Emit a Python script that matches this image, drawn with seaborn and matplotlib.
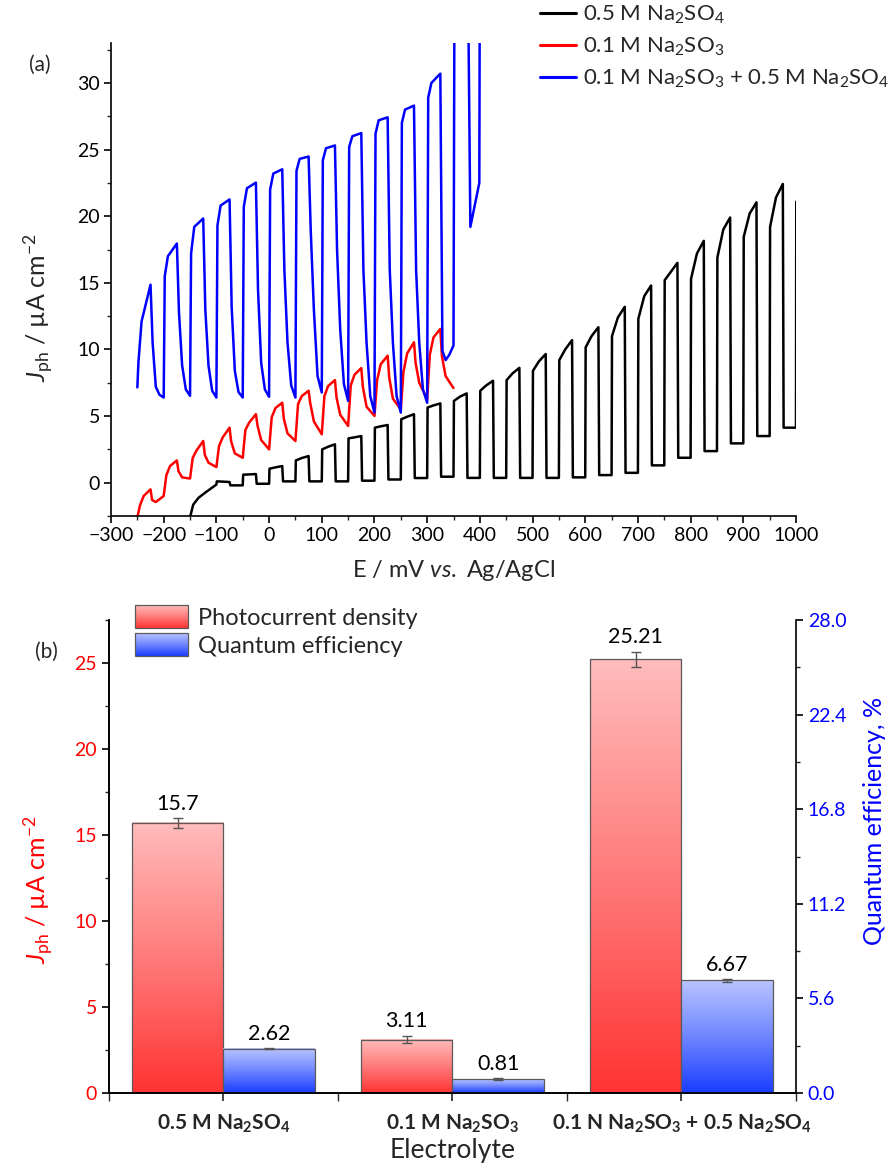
import numpy as np
import pandas as pd
import matplotlib
matplotlib.use("Agg")
import matplotlib.pyplot as plt
import seaborn as sns
from matplotlib.colors import LinearSegmentedColormap
from matplotlib.ticker import MultipleLocator, FixedLocator, FormatStrFormatter
from matplotlib.legend_handler import HandlerBase
from matplotlib.image import BboxImage
from matplotlib.transforms import Bbox, TransformedBbox
from matplotlib.patches import Rectangle
from matplotlib.lines import Line2D

# ---------------- data: panel (a) chopped-light voltammograms ----------------
# 0.1 M Na2SO3 + 0.5 M Na2SO4 (blue): light-on potentials and read currents
blue_on = [-250, -200, -150, -100, -50, 0, 50, 100, 150, 200, 250, 300]
blue_start = 7.15
blue_jump = [9.0, 15.5, 17.2, 19.3, 20.7, 22.0, 23.4, 24.2, 25.2, 26.2, 27.0, 28.9]
blue_knee = [12.1, 17.0, 19.2, 20.8, 22.1, 23.2, 24.3, 25.1, 26.0, 27.2, 28.0, 30.0]
blue_peak = [14.86, 17.95, 19.83, 21.26, 22.52, 23.52, 24.48, 25.31, 26.24, 27.42, 28.3, 30.7]
blue_fall = [10.5, 12.8, 13.0, 13.2, 14.5, 16.0, 19.0, 17.5, 16.0, 16.0, 16.0, 9.9]
blue_tail = [7.2, 8.8, 8.8, 8.4, 9.0, 10.5, 13.0, 11.5, 10.5, 10.5, 10.5, 9.2]
blue_tail2 = [6.6, 7.0, 6.9, 6.8, 7.0, 7.3, 8.0, 7.4, 6.5, 6.5, 7.0, 9.6]
blue_dark = [6.39, 6.52, 6.39, 6.39, 6.45, 6.39, 6.77, 6.14, 5.26, 5.26, 6.0, 10.3]
blue_end_E = [352, 377, 382, 399, 400]
blue_end_J = [40, 40, 19.2, 22.5, 40]

# 0.1 M Na2SO3 (red)
red_on = [-250, -200, -150, -100, -50, 0, 50, 100, 150, 200, 250, 300]
red_start = -2.6
red_r1 = [-1.7, 0.55, 1.85, 2.75, 3.95, 4.9, 5.9, 6.5, 7.3, 7.7, 8.3, 9.6]
red_r2 = [-1.0, 1.25, 2.4, 3.4, 4.5, 5.6, 6.5, 7.25, 8.1, 8.9, 9.7, 10.9]
red_peak = [-0.5, 1.67, 3.13, 4.13, 5.14, 6.0, 6.9, 7.7, 8.6, 9.53, 10.54, 11.54]
red_f1 = [-1.3, 0.87, 2.1, 3.1, 4.3, 4.8, 6.0, 6.4, 7.2, 7.9, 9.0, 9.5]
red_f2 = [-1.45, 0.4, 1.5, 2.2, 3.2, 3.7, 4.6, 5.1, 5.7, 6.3, 7.5, 8.0]
red_dark = [-1.0, 0.31, 1.17, 1.87, 2.5, 3.13, 3.63, 4.26, 5.01, 5.51, 6.27, 7.1]

# 0.5 M Na2SO4 (black)
black_pre_E = [-150, -144, -134, -122, -100]
black_pre_J = [-2.6, -1.65, -1.14, -0.77, -0.14]
black_on = [-100, -50, 0, 50, 100, 150, 200, 250, 300, 350, 400, 450, 500,
            550, 600, 650, 700, 750, 800, 850, 900, 950]
black_jump = [0.1, 0.6, 1.05, 1.67, 2.5, 3.33, 4.13, 4.76, 5.64, 6.14, 6.9, 7.7,
              8.4, 9.2, 10.16, 11.0, 12.3, 15.2, 15.3, 16.9, 18.45, 19.2]
black_mid = [0.08, 0.62, 1.15, 1.85, 2.7, 3.4, 4.23, 4.95, 5.8, 6.45, 7.3, 8.2,
             9.1, 10.0, 11.0, 12.4, 14.0, 15.8, 17.2, 19.0, 20.2, 21.4]
black_peak = [0.05, 0.65, 1.25, 2.0, 2.88, 3.5, 4.33, 5.14, 5.95, 6.7, 7.65, 8.62,
              9.66, 10.7, 11.67, 13.2, 14.8, 16.5, 18.15, 19.9, 21.04, 22.42]
black_dark = [-0.2, -0.08, 0.1, 0.1, 0.1, 0.15, 0.24, 0.35, 0.45, 0.36, 0.36, 0.36,
              0.36, 0.4, 0.57, 0.74, 1.3, 1.87, 2.37, 2.95, 3.5, 4.13]
black_last_on = 1000
black_last_jump = 21.1

series_labels = [r"0.5 M Na$_2$SO$_4$", r"0.1 M Na$_2$SO$_3$",
                 r"0.1 M Na$_2$SO$_3$ + 0.5 M Na$_2$SO$_4$"]

# ---------------- data: panel (b) bars ----------------
electrolytes = [r"0.5 M Na$_\mathbf{2}$SO$_\mathbf{4}$",
                r"0.1 M Na$_\mathbf{2}$SO$_\mathbf{3}$",
                r"0.1 N Na$_\mathbf{2}$SO$_\mathbf{3}$ + 0.5 Na$_\mathbf{2}$SO$_\mathbf{4}$"]
cat_keys = ["A", "B", "C"]
photocurrent = [15.7, 3.11, 25.21]
photocurrent_err = [0.3, 0.23, 0.45]
photocurrent_txt = ["15.7", "3.11", "25.21"]
qe = [2.62, 0.81, 6.67]
qe_err = [0.04, 0.05, 0.08]
qe_txt = ["2.62", "0.81", "6.67"]
metrics = ["Photocurrent density", "Quantum efficiency"]

# ---------------- style ----------------
sns.set_theme(style="ticks")
plt.rcParams["font.family"] = ["Lato", "DejaVu Sans"]
plt.rcParams["mathtext.fontset"] = "custom"
plt.rcParams["mathtext.rm"] = "Lato"
plt.rcParams["mathtext.it"] = "Lato:italic"
plt.rcParams["mathtext.bf"] = "Lato:bold"
plt.rcParams["axes.unicode_minus"] = True

TICK_FS = 14
LAB_FS = 18

fig = plt.figure(figsize=(8.94, 11.65), dpi=100)
fig.patch.set_facecolor("white")

# ---------------- panel (a) ----------------
ax1 = fig.add_axes([111 / 894, 1 - 516 / 1165, 685 / 894, 473 / 1165])


def build_black():
    E = list(black_pre_E)
    J = list(black_pre_J)
    for i, e in enumerate(black_on):
        E += [e + 0.8, e + 12, e + 25, e + 26.5, e + 50]
        J += [black_jump[i], black_mid[i], black_peak[i], black_dark[i], black_dark[i]]
    E += [black_last_on + 0.5]
    J += [black_last_jump]
    return pd.DataFrame({"E": E, "J": J})


def build_red():
    E = [red_on[0]]
    J = [red_start]
    for i, e in enumerate(red_on):
        E += [e + 5, e + 12, e + 25, e + 28, e + 35, e + 50]
        J += [red_r1[i], red_r2[i], red_peak[i], red_f1[i], red_f2[i], red_dark[i]]
    return pd.DataFrame({"E": E, "J": J})


def build_blue():
    E = [blue_on[0]]
    J = [blue_start]
    for i, e in enumerate(blue_on):
        E += [e + 2, e + 8, e + 25, e + 29, e + 35, e + 42, e + 50]
        J += [blue_jump[i], blue_knee[i], blue_peak[i], blue_fall[i],
              blue_tail[i], blue_tail2[i], blue_dark[i]]
    E += blue_end_E
    J += blue_end_J
    return pd.DataFrame({"E": E, "J": J})


curves = [(build_black(), "black"), (build_red(), "#ff0000"), (build_blue(), "#0000ff")]
for df_c, col in curves:
    sns.lineplot(data=df_c, x="E", y="J", sort=False, estimator=None, color=col,
                 lw=1.8, ax=ax1)

ax1.set_xlim(-300, 1000)
ax1.set_ylim(-2.5, 33)
ax1.xaxis.set_major_locator(MultipleLocator(100))
ax1.xaxis.set_minor_locator(MultipleLocator(50))
ax1.set_yticks([0, 5, 10, 15, 20, 25, 30])
ax1.yaxis.set_minor_locator(MultipleLocator(2.5))
for s in ["top", "right"]:
    ax1.spines[s].set_visible(False)
for s in ["left", "bottom"]:
    ax1.spines[s].set_linewidth(1.2)
    ax1.spines[s].set_color("black")
ax1.tick_params(which="major", direction="out", length=5, width=1.2, labelsize=TICK_FS,
                colors="black", pad=3)
ax1.tick_params(which="minor", direction="out", length=3, width=1.0)
ax1.set_xlabel(r"E / mV $\mathit{vs.}$ Ag/AgCl", fontsize=17, labelpad=10)
ax1.set_ylabel(r"$\mathit{J}_{\mathrm{ph}}$ / µA cm$^{-2}$", fontsize=LAB_FS)
ax1.yaxis.set_label_coords(-0.082, 0.44)
fig.text(40 / 894, 1 - 65 / 1165, "(a)", fontsize=15, ha="center", va="center")

handles_a = [Line2D([], [], color=c, lw=2.2) for c in ["black", "#ff0000", "#0000ff"]]
fig.legend(handles_a, series_labels, loc="upper left",
           bbox_to_anchor=(537 / 894, 1 - 0 / 1165), frameon=False, fontsize=16,
           handlelength=1.6, handletextpad=0.3, labelspacing=0.45, borderaxespad=0,
           borderpad=0.15)

# ---------------- panel (b) ----------------
ax = fig.add_axes([109 / 894, 1 - 1093 / 1165, 687 / 894, 473 / 1165])
ax2 = ax.twinx()

df = pd.DataFrame({
    "Electrolyte": cat_keys + cat_keys,
    "Metric": [metrics[0]] * 3 + [metrics[1]] * 3,
    "J": photocurrent + [np.nan] * 3,
    "QE": [np.nan] * 3 + qe,
})

red_cmap = LinearSegmentedColormap.from_list("rg", ["#ff3333", "#ff7b7b", "#ffbcbc"])
blue_cmap = LinearSegmentedColormap.from_list("bg", ["#1a3cff", "#6f86ff", "#b9c4ff"])

sns.barplot(data=df, x="Electrolyte", y="J", hue="Metric", hue_order=metrics,
            order=cat_keys, palette=["#ff8080", "#8090ff"], errorbar=None,
            width=0.8, ax=ax, legend=False)
sns.barplot(data=df, x="Electrolyte", y="QE", hue="Metric", hue_order=metrics,
            order=cat_keys, palette=["#ff8080", "#8090ff"], errorbar=None,
            width=0.8, ax=ax2, legend=False)

grad = np.linspace(0, 1, 256).reshape(-1, 1)


def shade(axis, cmap, vals, errs, txts):
    bars = [p for p in axis.patches if isinstance(p, Rectangle) and p.get_height() > 0]
    bars.sort(key=lambda p: p.get_x())
    for p, v, er, t in zip(bars, vals, errs, txts):
        x0, y0, w, h = p.get_x(), p.get_y(), p.get_width(), p.get_height()
        axis.imshow(grad, extent=[x0, x0 + w, y0, y0 + h], origin="lower",
                    aspect="auto", cmap=cmap, zorder=1.5, interpolation="bilinear")
        p.set_facecolor("none")
        p.set_edgecolor("#5a5a5a")
        p.set_linewidth(0.9)
        p.set_zorder(2)
        cx = x0 + w / 2
        axis.errorbar(cx, v, yerr=er, color="#555555", capsize=3.5, elinewidth=1,
                      capthick=1, zorder=3)
        axis.annotate(t, (cx, v + er), xytext=(0, 3), textcoords="offset points",
                      ha="center", va="bottom", fontsize=15.5, color="black")


shade(ax, red_cmap, photocurrent, photocurrent_err, photocurrent_txt)
shade(ax2, blue_cmap, qe, qe_err, qe_txt)

ax.set_xlim(-0.5, 2.5)
ax.set_ylim(0, 27.5)
ax2.set_ylim(0, 28)
ax.set_yticks([0, 5, 10, 15, 20, 25])
ax.yaxis.set_minor_locator(MultipleLocator(2.5))
ax2.set_yticks([0, 5.6, 11.2, 16.8, 22.4, 28.0])
ax2.yaxis.set_major_formatter(FormatStrFormatter("%.1f"))
ax2.yaxis.set_minor_locator(MultipleLocator(2.8))
ax.set_xticks([0, 1, 2])
ax.set_xticklabels(electrolytes, fontsize=15, fontweight="bold")
ax.xaxis.set_minor_locator(FixedLocator([-0.5, 0.5, 1.5, 2.5]))

for a in (ax, ax2):
    a.spines["top"].set_visible(False)
    for s in ["left", "right", "bottom"]:
        a.spines[s].set_linewidth(1.2)
        a.spines[s].set_color("black")
ax.spines["right"].set_visible(False)

ax.tick_params(axis="y", which="major", direction="out", length=5, width=1.2,
               labelsize=TICK_FS, labelcolor="#ff0000", color="black")
ax.tick_params(axis="y", which="minor", direction="out", length=3, width=1.0)
ax.tick_params(axis="x", which="major", direction="out", length=6, width=1.2, pad=8)
ax.tick_params(axis="x", which="minor", direction="out", length=6, width=1.0)
ax2.tick_params(axis="y", which="major", direction="out", length=5, width=1.2,
                labelsize=TICK_FS, labelcolor="#0000ff", color="black")
ax2.tick_params(axis="y", which="minor", direction="out", length=3, width=1.0)

ax.set_xlabel("Electrolyte", fontsize=19, labelpad=2)
ax.set_ylabel(r"$\mathit{J}_{\mathrm{ph}}$ / µA cm$^{-2}$", fontsize=LAB_FS,
              color="#ff0000")
ax.yaxis.set_label_coords(-0.079, 0.43)
ax2.set_ylabel("Quantum efficiency, %", fontsize=LAB_FS, color="#0000ff")
ax2.yaxis.set_label_coords(1.097, 0.575)
ax2.set_xlabel("")
fig.text(46 / 894, 1 - 652 / 1165, "(b)", fontsize=15, ha="center", va="center")


class GradHandler(HandlerBase):
    def __init__(self, cmap):
        super().__init__()
        self.cmap = cmap

    def create_artists(self, legend, orig_handle, xdescent, ydescent, width, height,
                       fontsize, trans):
        bb = TransformedBbox(Bbox.from_bounds(-xdescent, -ydescent, width, height), trans)
        img = BboxImage(bb, cmap=self.cmap, origin="lower", interpolation="bilinear")
        img.set_data(grad)
        rect = Rectangle((-xdescent, -ydescent), width, height, facecolor="none",
                         edgecolor="#5a5a5a", lw=0.9, transform=trans)
        return [img, rect]


h_red = Rectangle((0, 0), 1, 1)
h_blue = Rectangle((0, 0), 1, 1)
fig.legend([h_red, h_blue], metrics, loc="upper left",
           bbox_to_anchor=(133 / 894, 1 - 603 / 1165), frameon=False, fontsize=17,
           handler_map={h_red: GradHandler(red_cmap), h_blue: GradHandler(blue_cmap)},
           handlelength=2.25, handleheight=1.1, handletextpad=0.4, labelspacing=0.2,
           borderaxespad=0, borderpad=0.1)

fig.savefig("out.png", dpi=100, facecolor="white")
